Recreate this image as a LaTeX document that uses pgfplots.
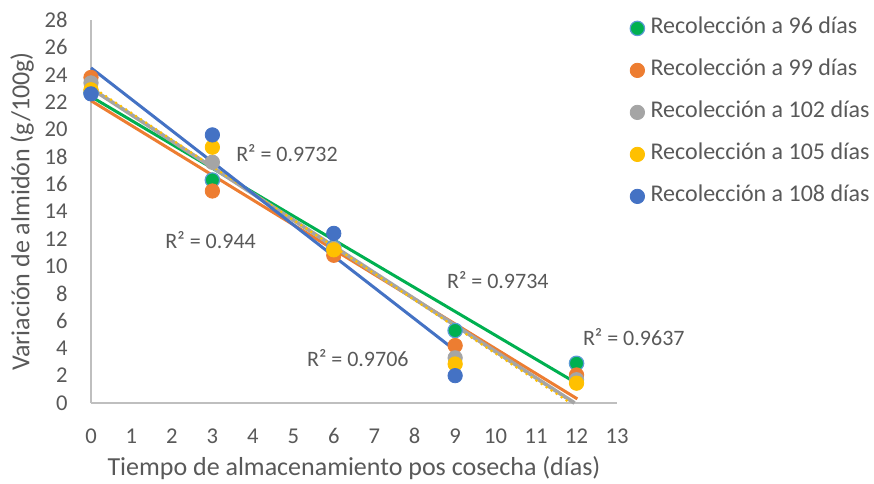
\documentclass[border=0pt]{standalone}
\usepackage{pgfplots}
\pgfplotsset{compat=1.18}
\usepackage{fontspec}
\setmainfont{Carlito}
\definecolor{txt}{HTML}{595959}
\definecolor{axl}{HTML}{BFBFBF}
\definecolor{cgreen}{HTML}{00B050}
\definecolor{corange}{HTML}{ED7D31}
\definecolor{cgray}{HTML}{A5A5A5}
\definecolor{cyellow}{HTML}{FFC000}
\definecolor{cblue}{HTML}{4472C4}
\definecolor{cedge}{HTML}{5B9BD5}
\begin{document}
\begin{tikzpicture}
\begin{axis}[at={(0,0)}, anchor=south west, scale only axis,
  width=263pt, height=191.5pt,
  xmin=0, xmax=13, ymin=0, ymax=28,
  xtick={0,1,...,13}, ytick={0,2,...,28},
  axis lines=left, axis line style={-, color=axl, line width=0.8pt},
  major tick length=0pt,
  clip=false,
  /pgf/number format/assume math mode=true,
  xticklabel style={font=\fontsize{11.3}{13}\selectfont, text=txt, anchor=center, inner sep=0pt, yshift=-16.5pt},
  yticklabel style={font=\fontsize{11.3}{13}\selectfont, text=txt, anchor=east, inner sep=0pt, xshift=-11.5pt},
  xlabel={Tiempo de almacenamiento pos cosecha (días)},
  ylabel={Variación de almidón (g/100g)},
  xlabel style={font=\fontsize{13}{15}\selectfont, text=txt, at={(axis description cs:0.5,-0.17)}, anchor=center},
  ylabel style={font=\fontsize{13}{15}\selectfont, text=txt, at={(axis description cs:-0.131,0.5)}, anchor=center},
  legend style={draw=none, fill=none, at={(axis description cs:1.0129,1.017)}, anchor=north west,
    font=\fontsize{12}{14}\selectfont, text=txt, row sep=10.5pt,
    nodes={inner sep=0pt, text height=8pt, text depth=2.5pt, anchor=west},
    /tikz/every odd column/.append style={column sep=3pt}},
  legend cell align=left,
  legend image code/.code={\draw[#1] plot coordinates {(0pt,0pt)};},
  mark size=3.6pt,
]
% scatter series
\addplot[only marks, mark=*, mark options={fill=cgreen, draw=cedge, line width=0.6pt}]
  coordinates {(0,22.7) (3,16.3) (6,11.4) (9,5.3) (12,2.9)};
\addlegendentry{Recolección a 96 días}
\addplot[only marks, mark=*, mark options={fill=corange, draw=corange}]
  coordinates {(0,23.8) (3,15.5) (6,10.8) (9,4.2) (12,2.05)};
\addlegendentry{Recolección a 99 días}
\addplot[only marks, mark=*, mark options={fill=cgray, draw=cgray}]
  coordinates {(0,23.4) (3,17.6) (6,11.3) (9,3.3) (12,1.7)};
\addlegendentry{Recolección a 102 días}
\addplot[only marks, mark=*, mark options={fill=cyellow, draw=cyellow}]
  coordinates {(0,22.9) (3,18.7) (6,11.2) (9,2.85) (12,1.45)};
\addlegendentry{Recolección a 105 días}
\addplot[only marks, mark=*, mark options={fill=cblue, draw=cblue}]
  coordinates {(0,22.6) (3,19.6) (6,12.4) (9,2.0)};
\addlegendentry{Recolección a 108 días}
% trend lines
\addplot[forget plot, no marks, cgreen, line width=1.5pt] coordinates {(0,22.4) (12,1.45)};
\addplot[forget plot, no marks, corange, line width=1.5pt] coordinates {(0,22.1) (12.02,0.3)};
\addplot[forget plot, no marks, cgray, line width=1.9pt] coordinates {(0,23.0) (11.95,0)};
\addplot[forget plot, no marks, cyellow, line width=1.5pt, line cap=round, dash pattern=on 0pt off 3pt] coordinates {(0,23.15) (11.85,0)};
\addplot[forget plot, no marks, cblue, line width=1.5pt] coordinates {(0,24.5) (9,3.85)};
% R^2 labels
\node[anchor=west, inner sep=0pt, text=txt, font=\fontsize{11}{13}\selectfont] at (axis cs:3.58,18.3) {R² = 0.9732};
\node[anchor=west, inner sep=0pt, text=txt, font=\fontsize{11}{13}\selectfont] at (axis cs:1.83,11.9) {R² = 0.944};
\node[anchor=west, inner sep=0pt, text=txt, font=\fontsize{11}{13}\selectfont] at (axis cs:8.79,9.0) {R² = 0.9734};
\node[anchor=west, inner sep=0pt, text=txt, font=\fontsize{11}{13}\selectfont] at (axis cs:5.33,3.3) {R² = 0.9706};
\node[anchor=west, inner sep=0pt, text=txt, font=\fontsize{11}{13}\selectfont] at (axis cs:12.15,4.8) {R² = 0.9637};
\end{axis}
\pgfresetboundingbox
\path[use as bounding box] (-45.5pt,-40pt) rectangle (391.5pt,201.5pt);
\end{tikzpicture}
\end{document}
